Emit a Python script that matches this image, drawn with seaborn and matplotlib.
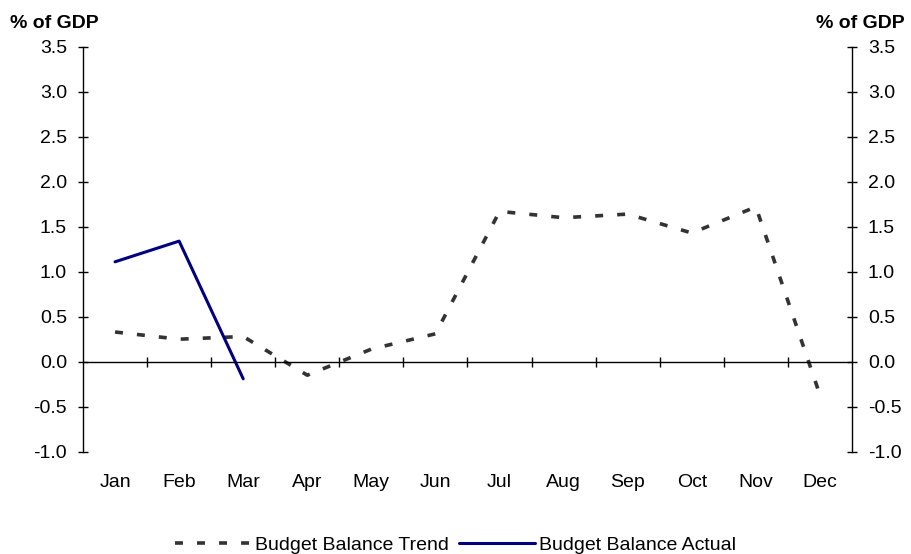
import numpy as np
import pandas as pd
import matplotlib
matplotlib.use('Agg')
import matplotlib.pyplot as plt
from matplotlib.ticker import FixedLocator
import seaborn as sns

# data
months = ['Jan', 'Feb', 'Mar', 'Apr', 'May', 'Jun', 'Jul', 'Aug', 'Sep', 'Oct', 'Nov', 'Dec']
trend = [0.33, 0.25, 0.28, -0.15, 0.14, 0.31, 1.67, 1.60, 1.64, 1.43, 1.72, -0.37]
actual = [1.11, 1.34, -0.19]
y_ticks = [-1.0, -0.5, 0.0, 0.5, 1.0, 1.5, 2.0, 2.5, 3.0, 3.5]

sns.set_style('white')
plt.rcParams['font.family'] = ['Liberation Sans', 'DejaVu Sans']
plt.rcParams['text.color'] = 'black'
plt.rcParams['xtick.color'] = 'black'
plt.rcParams['ytick.color'] = 'black'

trend_df = pd.DataFrame({'month': months, 'value': trend})
actual_df = pd.DataFrame({'month': months[:len(actual)], 'value': actual})

fig = plt.figure(figsize=(9.11, 5.54), dpi=100)
ax = fig.add_axes([83 / 911, 102.3 / 554, 769 / 911, 405 / 554])

sns.lineplot(data=trend_df, x='month', y='value', ax=ax, color='#333333',
             linewidth=2.6, label='Budget Balance Trend', sort=False)
ax.lines[-1].set_dashes((2.2, 3.9))
ax.lines[-1].set_dash_capstyle('butt')
sns.lineplot(data=actual_df, x='month', y='value', ax=ax, color='#000080',
             linewidth=2.2, label='Budget Balance Actual', sort=False)

ax.set_xlim(-0.5, len(months) - 0.5)
ax.set_ylim(-1.0, 3.5)
ax.set_yticks(y_ticks)
ax.set_yticklabels([f'{v:.1f}' for v in y_ticks])
ax.set_xlabel('')
ax.set_ylabel('')

# zero line with category boundary ticks
ax.spines['bottom'].set_position(('data', 0))
ax.spines['top'].set_visible(False)
ax.spines['right'].set_visible(False)
for s in ['left', 'bottom']:
    ax.spines[s].set_color('black')
    ax.spines[s].set_linewidth(1.0)
ax.xaxis.set_minor_locator(FixedLocator(np.arange(0.5, len(months) - 1, 1.0)))
ax.tick_params(axis='x', which='minor', bottom=True, direction='inout', length=7,
               width=1, color='black')
ax.tick_params(axis='x', which='major', bottom=True, length=0, pad=81, labelsize=14,
               labelcolor='black')
ax.tick_params(axis='y', direction='inout', length=7, width=1, color='black',
               left=True, pad=8, labelsize=14, labelcolor='black')

ax2 = ax.twinx()
ax2.set_ylim(ax.get_ylim())
ax2.set_yticks(y_ticks)
ax2.set_yticklabels([f'{v:.1f}' for v in y_ticks])
for s in ['top', 'bottom', 'left']:
    ax2.spines[s].set_visible(False)
ax2.spines['right'].set_color('black')
ax2.spines['right'].set_linewidth(1.0)
ax2.tick_params(axis='y', direction='inout', length=7, width=1, color='black',
                right=True, pad=8, labelsize=14, labelcolor='black')

fig.text(10 / 911, 1 - 23 / 554, '% of GDP', fontsize=14, fontweight='bold', ha='left', va='center')
fig.text(905 / 911, 1 - 23 / 554, '% of GDP', fontsize=14, fontweight='bold', ha='right', va='center')

handles, labels = ax.get_legend_handles_labels()
ax.get_legend().remove()
fig.legend(handles, labels, loc='center', bbox_to_anchor=(0.5, 9 / 554), ncol=2,
           frameon=False, fontsize=14, handlelength=3.9, handletextpad=0.25,
           columnspacing=0.5, borderpad=0.2, labelcolor='black')

fig.savefig('out.png', dpi=100)
